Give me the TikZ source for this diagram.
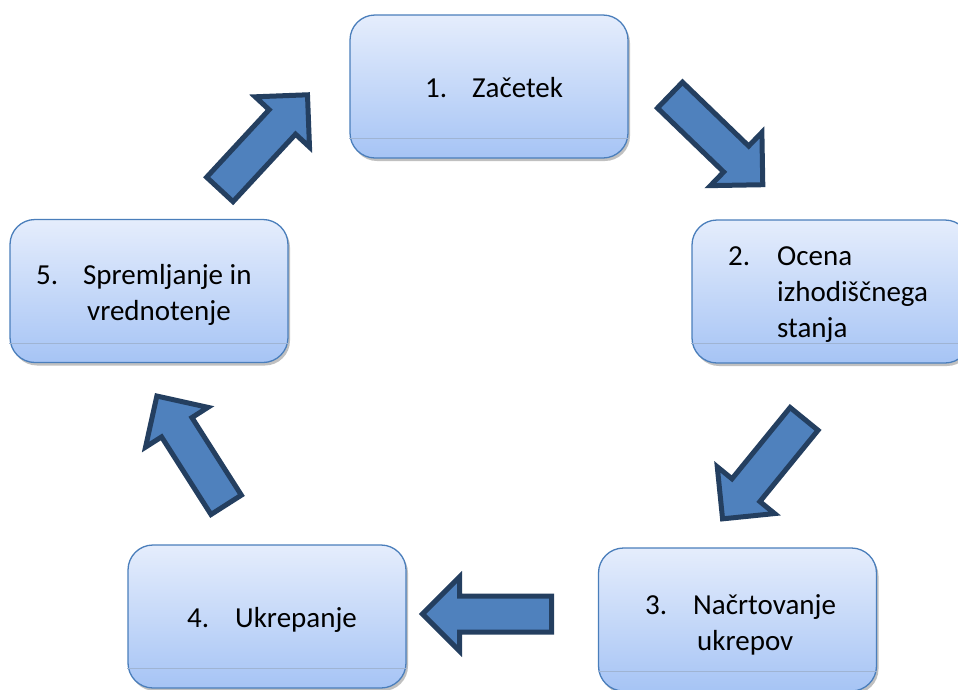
\documentclass[tikz,border=0pt]{standalone}
\usepackage{fontspec}
\setmainfont{Carlito}
\usepackage{xcolor}
\usepackage{tikz}
\usetikzlibrary{shadows}
\definecolor{boxtop}{HTML}{E5EDFC}
\definecolor{boxbottom}{HTML}{A6C4F5}
\definecolor{boxedge}{HTML}{4A7EBB}
\definecolor{bandline}{HTML}{9FB4D3}
\definecolor{arrowfill}{HTML}{4F81BD}
\definecolor{arrowedge}{HTML}{243F60}

\tikzset{
  stagebox/.style={rounded corners=25pt,draw=boxedge,line width=1.3pt,
    top color=boxtop,bottom color=boxbottom,
    minimum width=278pt,minimum height=143pt,inner sep=0pt,
    drop shadow={shadow xshift=2pt,shadow yshift=-3pt,fill=black!45,opacity=.55}},
  stagetext/.style={anchor=base west,inner sep=0pt,
    font=\fontsize{29}{36}\selectfont},
  flowarrow/.style={fill=arrowfill,draw=arrowedge,line width=5pt,line join=miter},
}

\begin{document}
\begin{tikzpicture}[x=1pt,y=-1pt]
  \useasboundingbox (0,0) rectangle (958,689);

  % stages
  \node[stagebox] (b1) at (489,86.5) {};
  \node[stagebox] (b2) at (831,291.5) {};
  \node[stagebox] (b3) at (737.5,619.5) {};
  \node[stagebox] (b4) at (267,616.5) {};
  \node[stagebox] (b5) at (149,291) {};
  \foreach \b in {b1,b2,b3,b4,b5}{
    \draw[bandline,line width=1pt] ([yshift=20pt]\b.south west) -- ([yshift=20pt]\b.south east);
  }

  \node[stagetext] (t1) at (425,97)
    {\begin{tabular}[t]{@{}p{47pt}@{}l@{}}1.&Začetek\end{tabular}};
  \node[stagetext] (t2) at (728,265)
    {\begin{tabular}[t]{@{}p{49pt}@{}l@{}}2.&Ocena\\&izhodiščnega\\&stanja\end{tabular}};
  \node[stagetext] (t3) at (645,614)
    {\begin{tabular}[t]{@{}p{48pt}@{}l@{}}3.&Načrtovanje\\&\hspace*{4pt}ukrepov\end{tabular}};
  \node[stagetext] (t4) at (187,627)
    {\begin{tabular}[t]{@{}p{48pt}@{}l@{}}4.&Ukrepanje\end{tabular}};
  \node[stagetext] (t5) at (36,284)
    {\begin{tabular}[t]{@{}p{47pt}@{}l@{}}5.&Spremljanje in\\&\hspace*{4pt}vrednotenje\end{tabular}};

  % block arrows between the stages
  \foreach \cx/\cy/\ang in {716.75/140.25/-44, 763/469.25/230.8, 486.5/614/180,
                            191.25/450/122.5, 264/141.75/47.2}{
    \draw[flowarrow,shift={(\cx,\cy)},rotate=\ang]
      (-65,-18) -- (27,-18) -- (27,-37) -- (64,0) -- (27,37) -- (27,18) -- (-65,18) -- cycle;
  }
\end{tikzpicture}
\end{document}
